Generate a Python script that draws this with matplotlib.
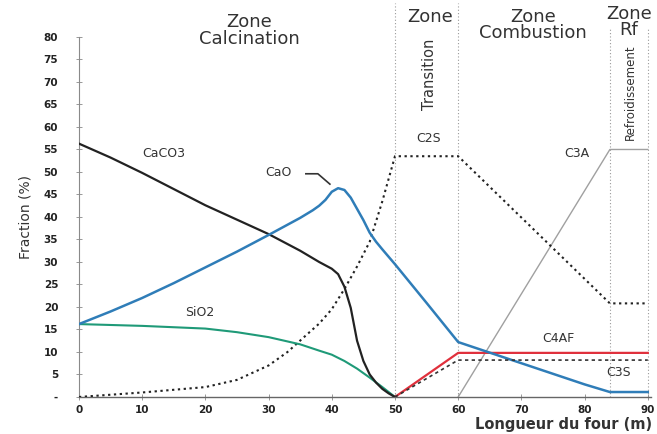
import matplotlib
matplotlib.use("Agg")
import matplotlib.pyplot as plt

# Profils de composition le long du four (x en m, y en %)
x_caco3 = [0, 5, 10, 15, 20, 25, 30, 35, 38, 40, 41, 42, 43, 44, 45, 46, 47, 48, 49, 50]
y_caco3 = [56.3, 53.2, 49.8, 46.2, 42.6, 39.4, 36.2, 32.5, 30.0, 28.5, 27.3, 24.5, 19.8,
           12.5, 8.0, 5.0, 3.2, 1.8, 0.8, 0]

x_cao = [0, 5, 10, 15, 20, 25, 30, 35, 37, 38, 39, 40, 41, 42, 43, 44, 45, 46, 47, 48,
         50, 55, 60, 70, 80, 84, 90]
y_cao = [16.2, 19.0, 22.0, 25.3, 28.8, 32.3, 36.0, 39.8, 41.5, 42.5, 43.8, 45.6, 46.4,
         46.0, 44.3, 41.8, 39.3, 36.5, 34.5, 32.8, 29.5, 20.9, 12.2, 7.5, 2.8, 1.1, 1.1]

x_sio2 = [0, 5, 10, 15, 20, 25, 30, 35, 38, 40, 42, 44, 46, 48, 50]
y_sio2 = [16.2, 16.0, 15.8, 15.5, 15.2, 14.4, 13.3, 11.7, 10.3, 9.4, 8.0, 6.3, 4.3, 2.2, 0]

x_c2s = [0, 5, 10, 15, 20, 25, 30, 33, 36, 38, 40, 42, 44, 46, 48, 50, 60, 84, 90]
y_c2s = [0, 0.5, 1.0, 1.6, 2.2, 3.8, 7.0, 10.0, 13.8, 16.3, 19.5, 24.0, 29.0, 34.5,
         43.5, 53.5, 53.5, 20.8, 20.8]

x_c4af = [50, 60, 90]
y_c4af = [0, 9.8, 9.8]

x_c3s = [50, 60, 90]
y_c3s = [0, 8.2, 8.2]

x_c3a = [60, 84, 90]
y_c3a = [0, 55, 55]

zone_limits = [50, 60, 84, 90]
x_ticks = list(range(0, 91, 10))
y_ticks = list(range(0, 81, 5))
y_ticklabels = ["-"] + [str(v) for v in y_ticks[1:]]

plt.rcParams["font.family"] = ["DejaVu Sans"]

fig = plt.figure(figsize=(6.57, 4.34), dpi=100)
ax = fig.add_axes([0.1202, 0.0853, 0.8706, 0.8295])

# limites des zones (pointillés qui montent jusqu'aux titres)
for xz in zone_limits:
    top = 87.5 if xz < 70 else 82.0
    ax.plot([xz, xz], [0, top], color="#9a9a9a", lw=0.8, ls=(0, (1, 2)),
            clip_on=False, zorder=1)

ax.plot(x_c3a, y_c3a, color="#a0a0a0", lw=1.0, zorder=2)
ax.plot(x_c2s, y_c2s, color="#222222", lw=1.5, ls=(0, (1.1, 1.7)), zorder=3)
ax.plot(x_sio2, y_sio2, color="#1f9a78", lw=1.5, zorder=3)
ax.plot(x_caco3, y_caco3, color="#222222", lw=1.6, zorder=4)
ax.plot(x_cao, y_cao, color="#2f7db8", lw=1.8, zorder=4)
ax.plot(x_c4af, y_c4af, color="#e0303c", lw=1.6, zorder=3)
ax.plot(x_c3s, y_c3s, color="#333333", lw=1.2, ls=(0, (2, 2)), zorder=4)

# étiquettes des espèces
lab = dict(fontsize=9, color="#333333", ha="center", va="center")
ax.text(13.4, 54.0, "CaCO3", **lab)
ax.text(19.1, 18.7, "SiO2", **lab)
ax.text(31.6, 49.8, "CaO", **lab)
ax.plot([35.9, 37.8, 39.7], [49.6, 49.6, 47.3], color="#333333", lw=1.2)
ax.text(55.3, 57.5, "C2S", **lab)
ax.text(78.8, 54.2, "C3A", **lab)
ax.text(75.8, 13.0, "C4AF", **lab)
ax.text(85.3, 5.5, "C3S", **lab)

# titres des zones
zt = dict(fontsize=13, color="#333333", ha="center", va="center", clip_on=False)
ax.text(27.0, 81.4, "Zone\nCalcination", linespacing=0.95, **zt)
ax.text(55.5, 84.4, "Zone", **zt)
ax.text(55.5, 71.6, "Transition", rotation=90, fontsize=10.5, color="#333333",
        ha="center", va="center")
ax.text(71.8, 82.7, "Zone\nCombustion", linespacing=0.88, **zt)
ax.text(87.0, 83.3, "Zone\nRf", linespacing=0.85, **zt)
ax.text(87.2, 67.8, "Refroidissement", rotation=90, fontsize=8.5, color="#333333",
        ha="center", va="center")

ax.set_xlim(0, 90.5)
ax.set_ylim(0, 80)
ax.set_xticks(x_ticks)
ax.set_yticks(y_ticks)
ax.set_yticklabels(y_ticklabels)
for t in ax.get_xticklabels() + ax.get_yticklabels():
    t.set_fontweight("bold")
    t.set_fontsize(7.5)
    t.set_color("#222222")
ax.tick_params(axis="y", direction="inout", length=4, width=0.6, color="#888888", pad=13)
ax.tick_params(axis="x", direction="inout", length=4, width=0.6, color="#888888", pad=4)

for side in ("top", "right"):
    ax.spines[side].set_visible(False)
ax.spines["left"].set_color("#8a8a8a")
ax.spines["left"].set_linewidth(0.8)
ax.spines["bottom"].set_color("#666666")
ax.spines["bottom"].set_linewidth(1.0)

ax.set_ylabel("Fraction (%)", fontsize=10, color="#333333", labelpad=8)
fig.text(0.992, 0.022, "Longueur du four (m)", fontsize=10.5, fontweight="bold",
         color="#333333", ha="right", va="center")

fig.savefig("out.png", dpi=100)
